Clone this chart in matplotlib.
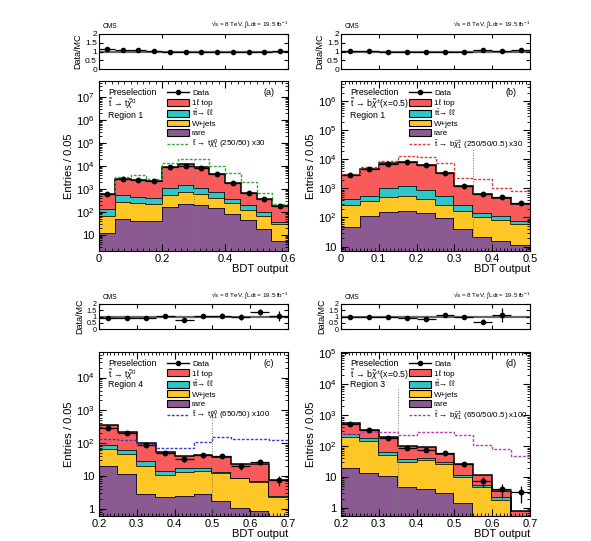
import numpy as np
import matplotlib
matplotlib.use("Agg")
import matplotlib.pyplot as plt
from matplotlib.lines import Line2D
from matplotlib.patches import Patch
from matplotlib.ticker import FuncFormatter, MultipleLocator, LogLocator, NullFormatter

plt.rcParams['font.family'] = ['Liberation Sans', 'DejaVu Sans']
plt.rcParams['mathtext.fontset'] = 'custom'
plt.rcParams['mathtext.rm'] = 'Liberation Sans'
plt.rcParams['mathtext.it'] = 'Liberation Sans:italic'

# colours of the backgrounds
c_top = '#F95B5B'
c_ttll = '#2EC6C6'
c_wjets = '#FFC726'
c_rare = '#8B5A92'

# ---- panel (a): t -> t chi0, region 1, BDT 0-0.6
edges_a = np.linspace(0.0, 0.6, 13)
rare_a = [12, 48, 42, 40, 165, 220, 195, 150, 85, 44, 19, 5.5]
wjets_a = [54, 222, 208, 175, 375, 530, 405, 275, 150, 81, 47, 23.5]
ttll_a = [74, 300, 210, 175, 560, 750, 500, 325, 115, 75, 34, 8]
top_a = [460, 2030, 2040, 1910, 8200, 10500, 7900, 3750, 1500, 480, 250, 143]
data_a = [600, 2600, 2500, 2300, 8700, 10500, 8000, 4300, 1850, 680, 350, 175]
sig_a = [580, 3400, 4000, 2600, 14000, 19500, 19500, 10000, 5100, 2000, 680, 220]
ratio_a = [1.17, 1.09, 1.09, 1.05, 1.0, 1.0, 0.98, 0.96, 1.0, 1.0, 1.0, 1.03]

# ---- panel (b): t -> b chi+-, region 1, BDT 0-0.5
edges_b = np.linspace(0.0, 0.5, 11)
rare_b = [46, 115, 150, 170, 140, 95, 41, 22, 16, 11]
wjets_b = [224, 265, 350, 370, 280, 165, 124, 78, 64, 49]
ttll_b = [160, 180, 500, 660, 480, 280, 105, 45, 32, 15]
top_b = [2370, 4240, 6300, 7100, 5600, 2960, 980, 505, 368, 225]
data_b = [2800, 4800, 7200, 8000, 6300, 3500, 1250, 650, 500, 310]
sig_b = [3200, 5500, 9000, 13000, 12500, 7500, 2300, 2100, 1050, 800]
ratio_b = [1.02, 1.03, 1.0, 0.98, 1.0, 0.98, 0.97, 1.06, 1.02, 1.1]

# ---- panel (c): t -> t chi0, region 4, BDT 0.2-0.7
edges_c = np.linspace(0.2, 0.7, 11)
rare_c = [19.5, 11.5, 2.9, 2.2, 2.5, 2.9, 1.7, 1.07, 0.87, 0.45]
wjets_c = [47.5, 33.5, 17.6, 8.3, 10.5, 11.6, 10.7, 7.3, 5.6, 1.85]
ttll_c = [21, 16, 8.5, 4, 4, 3, 0.6, 0.4, 0.3, 0.1]
top_c = [267, 154, 73, 38.5, 24, 25, 26, 14.2, 16.2, 4.9]
data_c = [280, 200, 90, 51, 32, 43, 41, 19.5, 26, 7.5]
sig_c = [130, 121, 97, 73, 73, 108, 152, 135, 130, 121]
ratio_c = [0.85, 0.88, 0.92, 1.02, 0.72, 1.05, 1.08, 0.95, 1.35, 1.05]

# ---- panel (d): t -> b chi+-, region 3, BDT 0.2-0.7
edges_d = np.linspace(0.2, 0.7, 11)
rare_d = [20, 13.7, 10.7, 4.8, 4.1, 3.0, 1.4, 0.3, 0.1, 0.05]
wjets_d = [176, 130, 40, 26, 32, 23, 8.6, 4.4, 1.7, 0.45]
ttll_d = [49, 39, 14, 7, 4, 4, 1.3, 0.7, 0.4, 0.05]
top_d = [300, 153, 131, 62, 53, 24, 15, 6.6, 1.4, 0.25]
data_d = [505, 320, 183, 87, 75, 60, 26.5, 7.5, 4.1, 3.2]
sig_d = [250, 295, 285, 230, 285, 285, 235, 105, 83, 48]
ratio_d = [1.0, 0.97, 0.97, 0.85, 0.8, 1.12, 0.97, 0.6, 1.15, np.nan]


def log_label(v, pos):
    n = int(round(np.log10(v)))
    if n == 0:
        return '1'
    if n == 1:
        return '10'
    return r'$10^{%d}$' % n


def draw_panel(rect_r, rect_m, edges, rare, wjets, ttll, top, data, ratio,
               sig, sig_col, sig_label, proc, region, tag, ylim,
               major, minor, cut_x, cut_top, rfont):
    axr = fig.add_axes(rect_r)
    ax = fig.add_axes(rect_m)
    centers = 0.5 * (edges[1:] + edges[:-1])
    half = 0.5 * (edges[1] - edges[0])
    data = np.array(data, float)

    # stacked backgrounds
    base = np.full(len(rare), 1e-3)
    for vals, col in [(rare, c_rare), (wjets, c_wjets), (ttll, c_ttll), (top, c_top)]:
        tops = base + np.array(vals, float)
        ax.stairs(tops, edges, baseline=base, fill=True, color=col, lw=0)
        ax.stairs(tops, edges, baseline=None, color='k', lw=1.1)
        base = tops

    ax.stairs(sig, edges, baseline=None, color=sig_col, lw=1.0, ls=(0, (2, 1.2)), zorder=4)
    ax.plot([cut_x, cut_x], [ylim[0], cut_top], color='#777777', lw=0.7, ls=':', zorder=4)
    ax.errorbar(centers, data, yerr=np.sqrt(data), xerr=half, fmt='o', color='k',
                ms=3.2, lw=0.9, capsize=0, zorder=6)

    ax.set_yscale('log')
    ax.set_ylim(*ylim)
    ax.set_xlim(edges[0], edges[-1])
    ax.yaxis.set_major_locator(LogLocator(base=10, numticks=20))
    ax.yaxis.set_minor_locator(LogLocator(base=10, subs=np.arange(2, 10), numticks=20))
    ax.yaxis.set_major_formatter(FuncFormatter(log_label))
    ax.yaxis.set_minor_formatter(NullFormatter())
    ax.xaxis.set_major_locator(MultipleLocator(major))
    ax.xaxis.set_minor_locator(MultipleLocator(minor))
    ax.xaxis.set_major_formatter(FuncFormatter(lambda v, p: '%g' % round(v, 2)))
    ax.tick_params(which='both', direction='in', top=True, right=True, labelsize=8)
    ax.tick_params(axis='x', pad=2)
    ax.tick_params(which='major', length=5)
    ax.tick_params(which='minor', length=2.5)
    ax.set_ylabel('Entries / 0.05', fontsize=8, labelpad=1)
    ax.set_xlabel('BDT output', fontsize=8, loc='right', labelpad=0)

    handles = [Line2D([], [], color='k', marker='o', ms=3, lw=1),
               Patch(facecolor=c_top, edgecolor='k', lw=0.8),
               Patch(facecolor=c_ttll, edgecolor='k', lw=0.8),
               Patch(facecolor=c_wjets, edgecolor='k', lw=0.8),
               Patch(facecolor=c_rare, edgecolor='k', lw=0.8),
               Line2D([], [], color=sig_col, ls=(0, (2, 1.2)), lw=1)]
    labels = ['Data', '1ℓ top', r't$\bar{\rm t}$→ ℓℓ', 'W+jets', 'rare', sig_label]
    ax.legend(handles, labels, loc='upper left', bbox_to_anchor=(0.33, 0.985),
              frameon=False, fontsize=5.8, handlelength=2.7, handleheight=0.95,
              labelspacing=0.14, handletextpad=0.4, borderpad=0.2)
    ax.text(0.05, 0.93, 'Preselection', transform=ax.transAxes, fontsize=6.3, va='center')
    ax.text(0.05, 0.865, proc, transform=ax.transAxes, fontsize=6.3, va='center')
    ax.text(0.05, 0.80, region, transform=ax.transAxes, fontsize=6.3, va='center')
    ax.text(0.9, 0.93, tag, transform=ax.transAxes, fontsize=6.5, va='center', ha='center')

    # ratio panel
    ratio = np.array(ratio, float)
    axr.axhline(1.0, color='#666666', lw=1.6, zorder=1)
    axr.errorbar(centers, ratio, yerr=ratio / np.sqrt(data), xerr=half, fmt='o',
                 color='k', ms=3, lw=0.9, capsize=0, zorder=3)
    axr.set_xlim(edges[0], edges[-1])
    axr.set_ylim(0, 2)
    axr.set_yticks([0, 0.5, 1, 1.5, 2])
    axr.set_yticklabels(['0', '0.5', '1', '1.5', '2'])
    axr.xaxis.set_major_locator(MultipleLocator(major))
    axr.tick_params(axis='x', labelbottom=False)
    axr.tick_params(which='both', direction='in', top=True, right=True, labelsize=rfont,
                    length=3, pad=1.5)
    axr.set_ylabel('Data/MC', fontsize=6.5, labelpad=2)
    axr.text(0.02, 1.12, 'CMS', transform=axr.transAxes, fontsize=4.8, va='bottom')
    axr.text(1.0, 1.12, '√s = 8 TeV, ∫Ldt = 19.5 fb$^{-1}$',
             transform=axr.transAxes, fontsize=4.5, va='bottom', ha='right')
    return ax, axr


fig = plt.figure(figsize=(5.91, 5.41), dpi=100)

xl, xr, w = 99 / 591, 341 / 591, 189 / 591
top_r = (1 - 69 / 541, 35 / 541)
top_m = (1 - 251 / 541, 170 / 541)
bot_r = (1 - 329 / 541, 25 / 541)
bot_m = (1 - 516 / 541, 164 / 541)

draw_panel([xl, top_r[0], w, top_r[1]], [xl, top_m[0], w, top_m[1]], edges_a,
           rare_a, wjets_a, ttll_a, top_a, data_a, ratio_a, sig_a, '#2FA82F',
           r'$\tilde{\rm t}$ → t$\tilde{\chi}^0_1$ (250/50) x30',
           r'$\tilde{\rm t}$ → t$\tilde{\chi}^0$', 'Region 1', '(a)', (2, 5e7),
           0.2, 0.02, 0.3, 2e4, 6)
draw_panel([xr, top_r[0], w, top_r[1]], [xr, top_m[0], w, top_m[1]], edges_b,
           rare_b, wjets_b, ttll_b, top_b, data_b, ratio_b, sig_b, '#E03A3A',
           r'$\tilde{\rm t}$ → b$\tilde{\chi}^{\pm}_1$ (250/50/0.5) x30',
           r'$\tilde{\rm t}$ → b$\tilde{\chi}^{\pm}$(x=0.5)', 'Region 1', '(b)', (7, 5e6),
           0.1, 0.01, 0.35, 2.5e4, 6)
draw_panel([xl, bot_r[0], w, bot_r[1]], [xl, bot_m[0], w, bot_m[1]], edges_c,
           rare_c, wjets_c, ttll_c, top_c, data_c, ratio_c, sig_c, '#3A3AD8',
           r'$\tilde{\rm t}$ → t$\tilde{\chi}^0_1$ (650/50) x100',
           r'$\tilde{\rm t}$ → t$\tilde{\chi}^0$', 'Region 4', '(c)', (0.6, 6e4),
           0.1, 0.01, 0.5, 850, 5.2)
draw_panel([xr, bot_r[0], w, bot_r[1]], [xr, bot_m[0], w, bot_m[1]], edges_d,
           rare_d, wjets_d, ttll_d, top_d, data_d, ratio_d, sig_d, '#B83AB8',
           r'$\tilde{\rm t}$ → b$\tilde{\chi}^{\pm}_1$ (650/50/0.5) x100',
           r'$\tilde{\rm t}$ → b$\tilde{\chi}^{\pm}$(x=0.5)', 'Region 3', '(d)', (0.55, 1.1e5),
           0.1, 0.01, 0.35, 8000, 5.2)

fig.savefig('out.png', dpi=100)
